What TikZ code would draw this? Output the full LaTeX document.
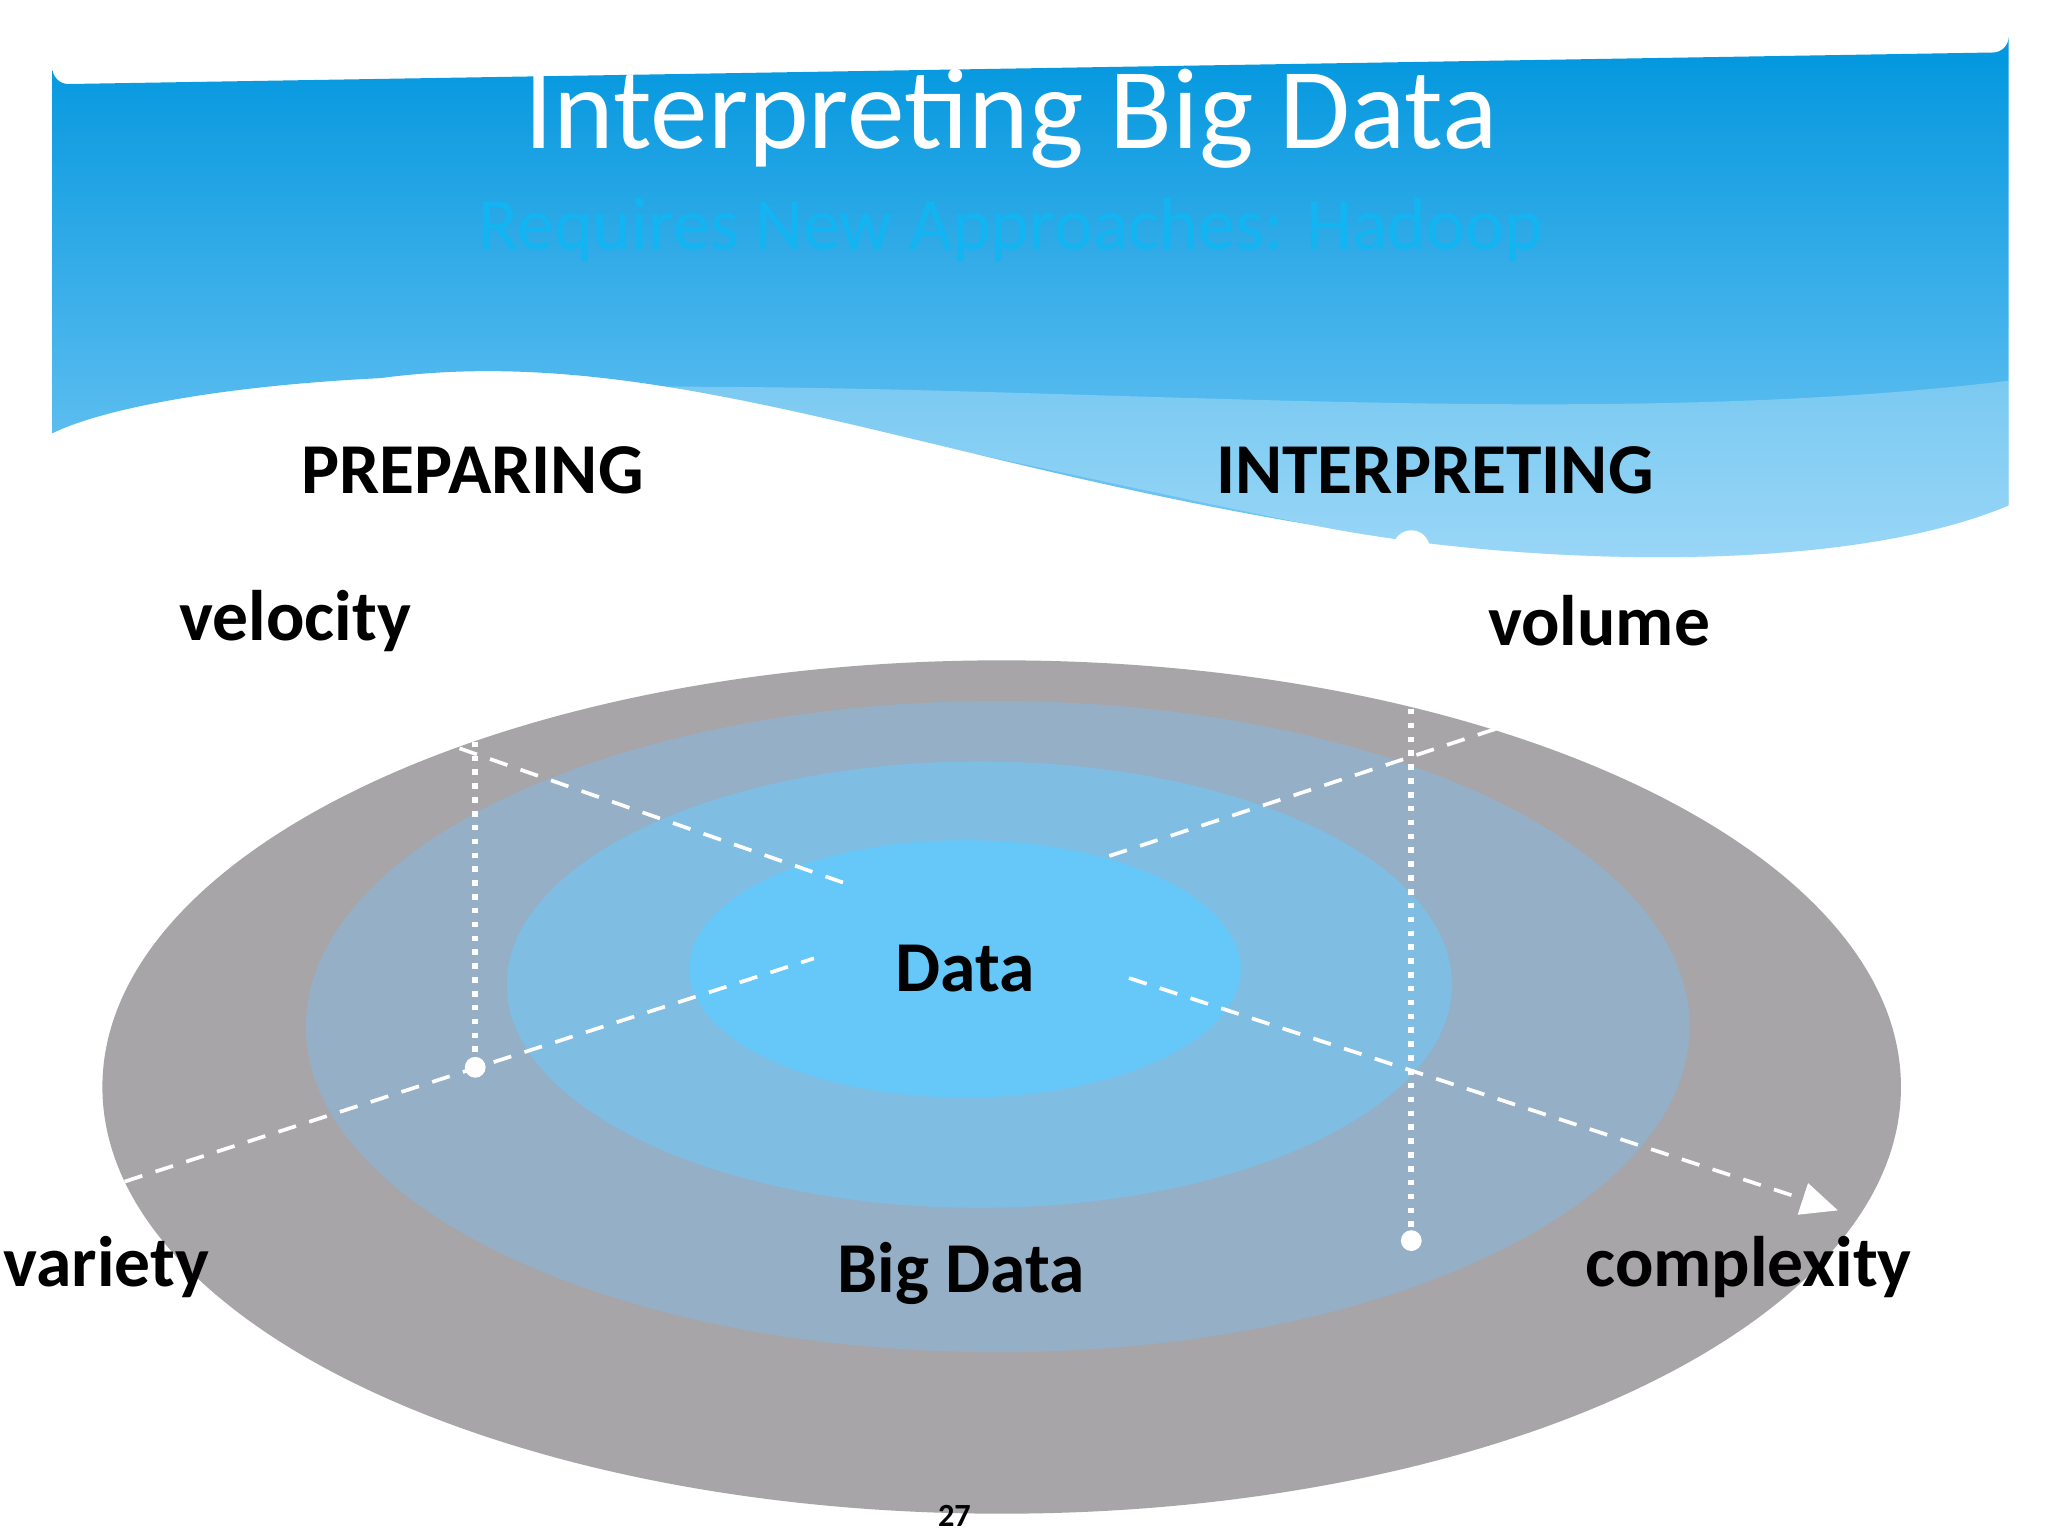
\documentclass[tikz,border=0pt]{standalone}
\usepackage{fontspec}
\setmainfont{Carlito}
\usetikzlibrary{arrows.meta}
\definecolor{hdtop}{HTML}{0096DE}
\definecolor{hdbot}{HTML}{7CCBF6}
\definecolor{ring1}{HTML}{A7A5A8}
\definecolor{ring2}{HTML}{94AFC6}
\definecolor{ring3}{HTML}{7FBEE2}
\definecolor{ring4}{HTML}{66C8F8}
\definecolor{subt}{HTML}{12B4F2}
\tikzset{lbl/.style={font=\fontsize{15.5}{18}\selectfont\bfseries, text=black},
axis/.style={white, line width=0.8pt, dash pattern=on 4pt off 3pt},
dotl/.style={white, line width=1.3pt, dash pattern=on 1.2pt off 1.8pt},
dotend/.style={circle, fill=white, inner sep=0pt, minimum size=4.5pt}}
\begin{document}
\begin{tikzpicture}[x=0.01cm,y=-0.01cm]
\useasboundingbox (0,0) rectangle (1560,1170);
\fill[white] (0,0) rectangle (1560,1170);
% header
\shade[top color=hdtop, bottom color=hdbot]
 (40,330) -- (40,52) arc[start angle=180, end angle=90, radius=12] -- (1518,40)
 arc[start angle=90, end angle=0, radius=12] -- (1530,385)
 .. controls (1400,440) and (1150,430) .. (1000,400)
 .. controls (700,350) and (500,260) .. (290,288)
 .. controls (150,295) and (70,315) .. (40,330) -- cycle;
\fill[white,opacity=0.25] (450,295) .. controls (800,290) and (1200,330) .. (1530,290) -- (1530,385)
 .. controls (1400,440) and (1150,430) .. (1000,400) .. controls (800,360) and (600,310) .. (450,295) -- cycle;
\node[font=\fontsize{25}{28}\selectfont, text=white] (title) at (770,90) {Interpreting Big Data};
\node[font=\fontsize{16}{19}\selectfont, text=subt] (sub) at (770,175) {Requires New Approaches: Hadoop};
% rings
\fill[ring1] (763,828) ellipse [x radius=685, y radius=325];
\fill[ring2] (760,782) ellipse [x radius=527, y radius=248];
\fill[ring3] (746,750) ellipse [x radius=360, y radius=170];
\fill[ring4] (735,738) ellipse [x radius=210, y radius=98];
% axes
\coordinate (v1) at (95,900); \coordinate (v2) at (620,730);
\coordinate (p1) at (350,570); \coordinate (p2) at (650,675);
\coordinate (o1) at (845,652); \coordinate (o2) at (1140,555);
\coordinate (c1) at (860,745); \coordinate (c2) at (1400,922);
\draw[axis] (v1) -- (v2);
\draw[axis] (p1) -- (p2);
\draw[axis] (o1) -- (o2);
\draw[axis,-{Triangle[length=8pt,width=7pt]}] (c1) -- (c2);
\node[dotend] (d1) at (362,813) {};
\node[dotend] (d2) at (1075,945) {};
\node[dotend,minimum size=8pt] (d3) at (1075,418) {};
\coordinate (t1) at (362,565); \coordinate (t2) at (1075,540);
\draw[dotl] (t1) -- (d1);
\draw[dotl] (t2) -- (d2);
% labels
\node[lbl] (prep) at (360,358) {PREPARING};
\node[lbl] (interp) at (1093,358) {INTERPRETING};
\node[lbl] (vel) at (225,473) {velocity};
\node[lbl] (vol) at (1218,473) {volume};
\node[lbl] (data) at (735,738) {Data};
\node[lbl,anchor=west,inner xsep=0pt] (var) at (2,965) {variety};
\node[lbl] (bd) at (732,970) {Big Data};
\node[lbl] (cx) at (1332,965) {complexity};
\node[font=\fontsize{7}{8}\selectfont\bfseries] (pg) at (727,1155) {27};
\end{tikzpicture}
\end{document}
